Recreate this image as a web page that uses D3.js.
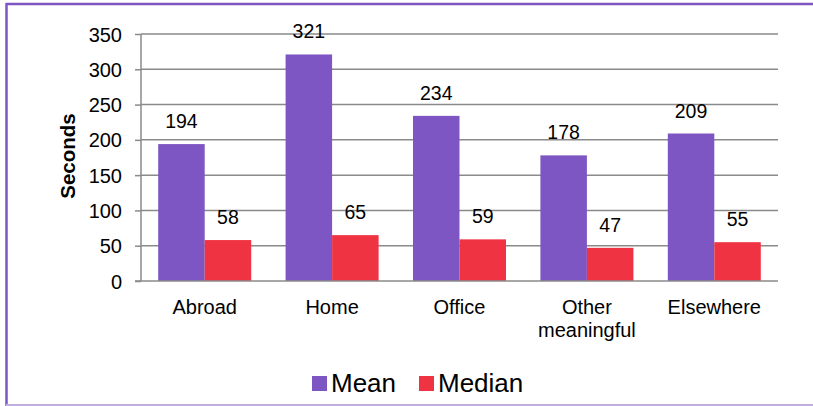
<!DOCTYPE html>
<html>
<head>
<meta charset="utf-8">
<script src="https://cdnjs.cloudflare.com/ajax/libs/d3/7.8.5/d3.min.js"></script>
<style>
  html, body { margin: 0; padding: 0; background: #fff; }
  svg { display: block; font-family: "Liberation Sans", Arial, sans-serif; }
</style>
</head>
<body>
<svg id="chart" width="813" height="406"></svg>
<script>
// Time spent per location, in seconds
const categories = [["Abroad"], ["Home"], ["Office"], ["Other", "meaningful"], ["Elsewhere"]];
const meanValues = [194, 321, 234, 178, 209];
const medianValues = [58, 65, 59, 47, 55];
const seriesNames = ["Mean", "Median"];
const seriesColors = ["#7d56c3", "#ef3343"];
const yTicks = [0, 50, 100, 150, 200, 250, 300, 350];

const FONT = "Liberation Sans, Arial, sans-serif";
const svg = d3.select("#chart");
const W = 813, H = 406;

// Frame
svg.append("rect").attr("x", 0).attr("y", 0).attr("width", W).attr("height", H).attr("fill", "#fff");
svg.append("line").attr("x1", 6).attr("x2", W).attr("y1", 4).attr("y2", 4)
  .attr("stroke", "#7d56c3").attr("stroke-width", 2.5);
svg.append("line").attr("x1", 6.5).attr("x2", 6.5).attr("y1", 3).attr("y2", H)
  .attr("stroke", "#7d56c3").attr("stroke-width", 2.5);
svg.append("line").attr("x1", 6).attr("x2", W).attr("y1", 405).attr("y2", 405)
  .attr("stroke", "#c2aee0").attr("stroke-width", 2);

const plot = { left: 141, right: 778, top: 34, bottom: 281 };

const x0 = d3.scaleBand().domain(d3.range(categories.length))
  .range([plot.left, plot.right]).paddingInner(0.27).paddingOuter(0.135);
const x1 = d3.scaleBand().domain([0, 1]).range([0, x0.bandwidth()]);
const y = d3.scaleLinear().domain([0, 350]).range([plot.bottom, plot.top]);

// Gridlines
svg.append("g").selectAll("line").data(yTicks.filter(t => t > 0)).join("line")
  .attr("x1", plot.left).attr("x2", plot.right)
  .attr("y1", d => y(d)).attr("y2", d => y(d))
  .attr("stroke", "#8a8a8a").attr("stroke-width", 1.5);

// Y axis
const yAxis = d3.axisLeft(y).tickValues(yTicks).tickSize(6).tickPadding(13);
const gy = svg.append("g").attr("transform", `translate(${plot.left},0)`).call(yAxis);
gy.select(".domain").remove();
gy.selectAll(".tick line").attr("stroke", "#8a8a8a").attr("stroke-width", 1.5);
gy.selectAll(".tick text").attr("font-size", 20).attr("fill", "#000")
  .attr("font-family", FONT).attr("dy", "0.35em");
svg.append("line").attr("x1", plot.left).attr("x2", plot.left)
  .attr("y1", plot.top).attr("y2", plot.bottom)
  .attr("stroke", "#8a8a8a").attr("stroke-width", 1.5);

// Y axis title
svg.append("text").attr("transform", `translate(75,156) rotate(-90)`)
  .attr("text-anchor", "middle").attr("font-size", 20.5).attr("font-weight", "bold")
  .attr("font-family", FONT).text("Seconds");

// Bars
const rows = categories.map((c, i) => ({ i, values: [meanValues[i], medianValues[i]] }));
const groups = svg.append("g").selectAll("g").data(rows).join("g")
  .attr("transform", d => `translate(${x0(d.i)},0)`);
groups.selectAll("rect").data(d => d.values.map((v, s) => ({ v, s }))).join("rect")
  .attr("x", d => x1(d.s)).attr("width", x1.bandwidth())
  .attr("y", d => y(d.v)).attr("height", d => y(0) - y(d.v))
  .attr("fill", d => seriesColors[d.s]);
groups.selectAll("text.val").data(d => d.values.map((v, s) => ({ v, s }))).join("text")
  .attr("class", "val")
  .attr("x", d => x1(d.s) + x1.bandwidth() / 2)
  .attr("y", d => y(d.v) - 16)
  .attr("text-anchor", "middle").attr("font-size", 19.5).attr("fill", "#000")
  .attr("font-family", FONT)
  .text(d => d.v);

// X axis baseline
svg.append("line").attr("x1", plot.left - 6).attr("x2", plot.right)
  .attr("y1", plot.bottom).attr("y2", plot.bottom)
  .attr("stroke", "#8a8a8a").attr("stroke-width", 1.5);

// Category labels
const cat = svg.append("g").selectAll("text").data(categories).join("text")
  .attr("x", (d, i) => x0(i) + x0.bandwidth() / 2)
  .attr("y", 314)
  .attr("text-anchor", "middle").attr("font-size", 20).attr("fill", "#000")
  .attr("font-family", FONT);
cat.selectAll("tspan").data(d => d).join("tspan")
  .attr("x", function () { return d3.select(this.parentNode).attr("x"); })
  .attr("dy", (d, j) => j === 0 ? 0 : 23)
  .text(d => d);

// Legend
const legend = svg.append("g");
const legendItems = [{ name: seriesNames[0], x: 312 }, { name: seriesNames[1], x: 419 }];
legendItems.forEach((it, k) => {
  legend.append("rect").attr("x", it.x).attr("y", 376).attr("width", 15).attr("height", 15)
    .attr("fill", seriesColors[k]);
  legend.append("text").attr("x", it.x + 19).attr("y", 392)
    .attr("font-size", 26).attr("fill", "#000").attr("font-family", FONT).text(it.name);
});
</script>
</body>
</html>
